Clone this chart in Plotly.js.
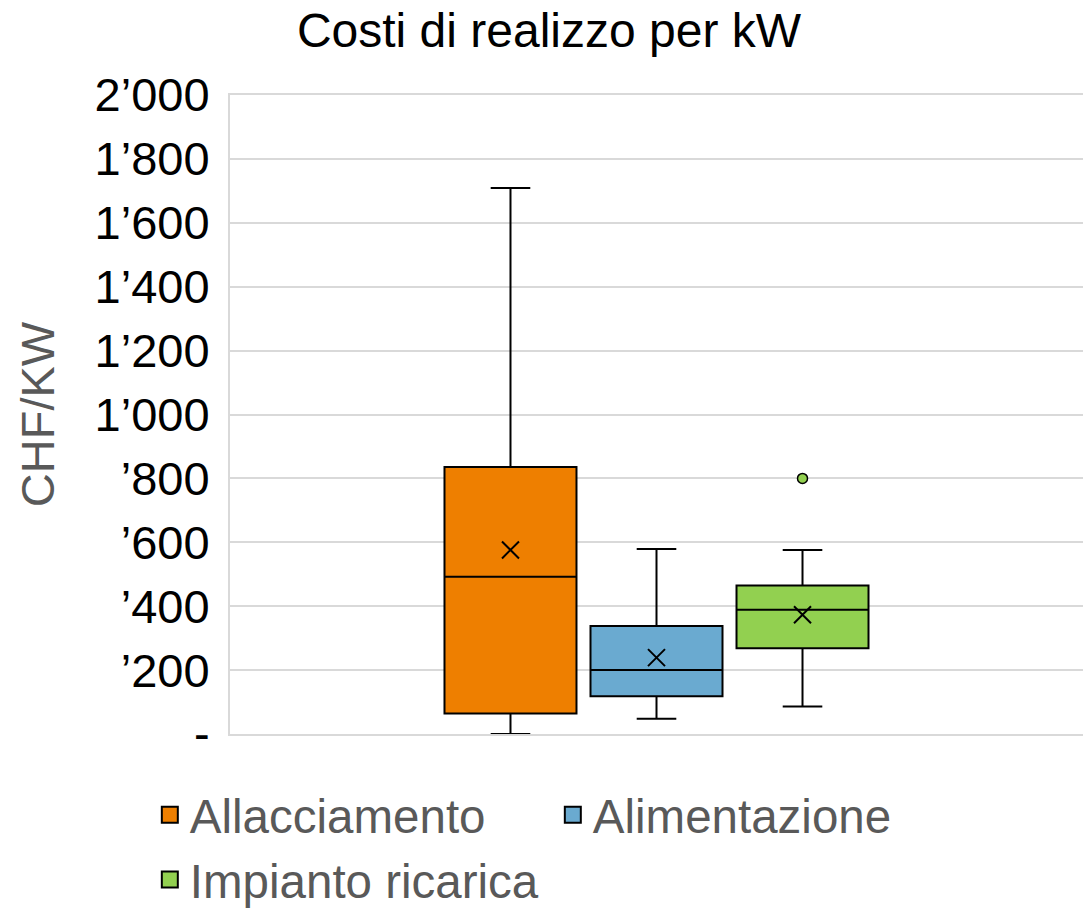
<!DOCTYPE html>
<html>
<head>
<meta charset="utf-8">
<script src="https://cdn.plot.ly/plotly-3.0.1.min.js"></script>
<style>html,body{margin:0;padding:0;background:#fff;}#chart{width:1083px;height:909px;}</style>
</head>
<body>
<div id="chart"></div>
<script>
// ---- data ----
var categories = ['Allacciamento', 'Alimentazione', 'Impianto ricarica'];
var lowerFence = [0, 48, 86];
var q1 = [64, 118, 268];
var median = [492, 200, 389];
var q3 = [836, 338, 465];
var upperFence = [1709, 579, 576];
var means = [576, 239, 373];
var outlierCategory = ['Impianto ricarica'];
var outlierValues = [800];
var tickValues = [0, 200, 400, 600, 800, 1000, 1200, 1400, 1600, 1800, 2000];
var tickLabels = ['-', '\u2019200', '\u2019400', '\u2019600', '\u2019800', '1\u2019000', '1\u2019200', '1\u2019400', '1\u2019600', '1\u2019800', '2\u2019000'];

// ---- styles ----
var colors = ['#EE7F00', '#6AAAD0', '#92D050'];
var FONT = 'Liberation Sans, Arial, sans-serif';
var FS = 47;

var traces = [];
categories.forEach(function (c, i) {
  traces.push({
    type: 'box',
    name: c,
    x: [c],
    q1: [q1[i]],
    median: [median[i]],
    q3: [q3[i]],
    lowerfence: [lowerFence[i]],
    upperfence: [upperFence[i]],
    boxpoints: false,
    fillcolor: colors[i],
    line: {color: '#000000', width: 2},
    whiskerwidth: 0.3,
    showlegend: false,
    hoverinfo: 'skip'
  });
});
// mean markers
traces.push({
  type: 'scatter', mode: 'markers',
  x: categories, y: means,
  marker: {symbol: 'x-thin-open', size: 17, color: '#000000', line: {color: '#000000', width: 2}},
  showlegend: false, hoverinfo: 'skip'
});
// outliers
traces.push({
  type: 'scatter', mode: 'markers',
  x: outlierCategory, y: outlierValues,
  marker: {symbol: 'circle', size: 10, color: colors[2], line: {color: '#000000', width: 1.5}},
  showlegend: false, hoverinfo: 'skip'
});
// legend entries
categories.forEach(function (c, i) {
  traces.push({
    type: 'scatter', mode: 'markers',
    name: c,
    x: [null], y: [null],
    marker: {symbol: 'square', size: 16, color: colors[i], line: {color: '#000000', width: 2}},
    showlegend: true, hoverinfo: 'skip'
  });
});

var layout = {
  width: 1083,
  height: 909,
  margin: {l: 230, r: 0, t: 95, b: 175, autoexpand: false},
  paper_bgcolor: '#ffffff',
  plot_bgcolor: '#ffffff',
  font: {family: FONT, size: FS, color: '#000000'},
  title: {
    text: 'Costi di realizzo per kW',
    font: {family: FONT, size: 48, color: '#000000'},
    x: 549 / 1083, xref: 'container', xanchor: 'center',
    y: 1 - 13 / 909, yref: 'container', yanchor: 'top'
  },
  showlegend: true,
  legend: {
    orientation: 'h',
    x: -0.094, xanchor: 'left',
    y: -0.068, yanchor: 'top',
    entrywidth: 358,
    font: {family: FONT, size: 47.5, color: '#595959'},
    itemsizing: 'trace',
    bgcolor: 'rgba(0,0,0,0)',
    borderwidth: 0,
    traceorder: 'normal'
  },
  boxmode: 'overlay',
  boxgap: 0.096,
  boxgroupgap: 0,
  xaxis: {
    type: 'category',
    categoryorder: 'array',
    categoryarray: categories,
    range: [-1.921, 3.921],
    showticklabels: false,
    showgrid: false,
    zeroline: false,
    showline: true,
    mirror: true,
    linecolor: '#D9D9D9',
    linewidth: 2,
    ticks: '',
    fixedrange: true
  },
  yaxis: {
    range: [0, 2000],
    tickmode: 'array',
    tickvals: tickValues,
    ticktext: tickLabels,
    tickfont: {family: FONT, size: FS, color: '#000000'},
    ticks: 'outside',
    ticklen: 9,
    tickcolor: 'rgba(0,0,0,0)',
    showgrid: true,
    gridcolor: '#D9D9D9',
    gridwidth: 2,
    zeroline: false,
    showline: true,
    linecolor: '#D9D9D9',
    linewidth: 2,
    automargin: false,
    title: {
      text: 'CHF/KW',
      font: {family: FONT, size: FS, color: '#595959'},
      standoff: 25
    },
    fixedrange: true
  }
};

Plotly.newPlot('chart', traces, layout, {displayModeBar: false, staticPlot: true});
</script>
</body>
</html>
